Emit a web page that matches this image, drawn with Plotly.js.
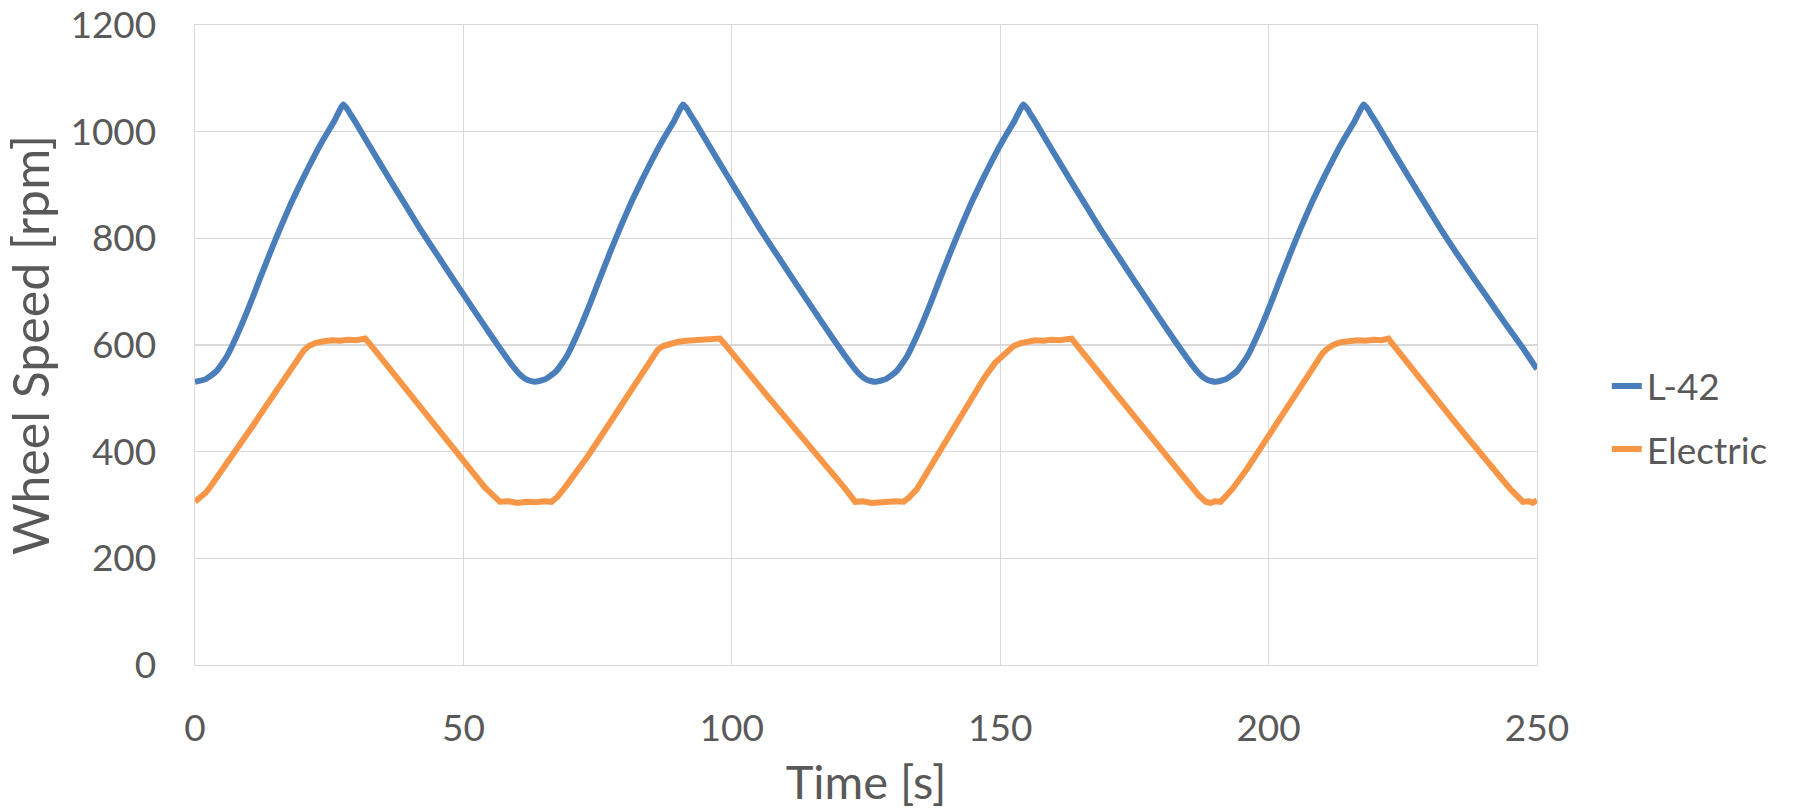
<!DOCTYPE html>
<html>
<head>
<meta charset="utf-8">
<script src="https://cdn.plot.ly/plotly-3.0.1.min.js"></script>
<style>
  html, body { margin: 0; padding: 0; background: #ffffff; }
  #chart { width: 1794px; height: 809px; }
</style>
</head>
<body>
<div id="chart"></div>
<script>
// Time [s] and wheel speed [rpm]
const l42Time = [
  0, 2, 4, 6, 8, 10, 12, 14, 16, 18, 20, 22, 24, 26, 27.1, 27.6, 28.2, 29, 30, 33, 36, 39, 42, 45, 48, 51, 54, 57, 59, 60.5, 61.8,
  63.3, 65.3, 67.3, 69.3, 71.3, 73.3, 75.3, 77.3, 79.3, 81.3, 83.3, 85.3, 87.3, 89.3, 90.4, 90.9, 91.5, 92.3, 93.3, 96.3, 99.3, 102.3, 105.3, 108.3, 111.3, 114.3, 117.3, 120.3, 122.3, 123.8, 125.1,
  126.7, 128.7, 130.7, 132.7, 134.7, 136.7, 138.7, 140.7, 142.7, 144.7, 146.7, 148.7, 150.7, 152.7, 153.8, 154.3, 154.9, 155.7, 156.7, 159.7, 162.7, 165.7, 168.7, 171.7, 174.7, 177.7, 180.7, 183.7, 185.7, 187.2, 188.5,
  190.1, 192.1, 194.1, 196.1, 198.1, 200.1, 202.1, 204.1, 206.1, 208.1, 210.1, 212.1, 214.1, 216.1, 217.2, 217.7, 218.3, 219.1, 220.1, 223.1, 226.1, 229.1, 232.1, 235.1, 238.1, 241.1, 244.1, 247.1, 250
];
const l42Speed = [
  531, 536, 551, 580, 622, 670, 722, 773, 822, 868, 910, 950, 987, 1021, 1043, 1051, 1045, 1032, 1016, 965, 915, 866, 817, 771, 725, 680, 635, 591, 563, 545, 535,
  531, 536, 551, 580, 622, 670, 722, 773, 822, 868, 910, 950, 987, 1021, 1043, 1051, 1045, 1032, 1016, 965, 915, 866, 817, 771, 725, 680, 635, 591, 563, 545, 535,
  531, 536, 551, 580, 622, 670, 722, 773, 822, 868, 910, 950, 987, 1021, 1043, 1051, 1045, 1032, 1016, 965, 915, 866, 817, 771, 725, 680, 635, 591, 563, 545, 535,
  531, 536, 551, 580, 622, 670, 722, 773, 822, 868, 910, 950, 987, 1021, 1043, 1051, 1045, 1032, 1016, 965, 915, 866, 817, 771, 727, 684, 640, 598, 555
];

const elecTime = [
  0, 1, 2, 3, 5, 7, 9, 11, 13, 15, 17, 19, 20.3, 21.2, 22.5, 24, 25.5, 27, 28.5, 30, 31.7, 32.5, 34, 36.3, 39, 42, 45, 48, 51, 54, 56.8,
  58.5, 60, 61.8, 63.5, 65, 66.4, 67.5, 69, 71, 73, 75, 77, 79, 81, 83, 85, 86.2, 87.2, 88.5, 90, 91.5, 93, 94.5, 96, 97.8, 98.6,
  100, 103, 106, 109, 112, 115, 118, 121, 123, 124.5, 126, 127.6, 129, 130.5, 132, 133, 134.5, 136.9, 139, 141, 143, 145, 147, 149, 151.5,
  152.5, 153.7, 155, 156.5, 158, 159.5, 161, 163.3, 164, 166, 169, 172, 175, 178, 181, 184, 187, 188.3, 189.2, 190, 191,
  192, 193.4, 196, 198, 200, 202, 204, 206, 208, 210, 210.8, 212, 213.3, 215, 216.5, 218, 219.5, 221, 222.3, 223, 225, 228.2, 231, 234.4, 237, 240.6, 243, 245, 247.4, 248.5, 249.2, 250
];
const elecSpeed = [
  306, 313, 323, 336, 364, 394, 423, 452, 482, 513, 543, 573, 590, 598, 604, 607, 609, 608, 610, 609, 612, 603, 584, 555, 521, 482, 444, 406, 369, 333, 306,
  307, 304, 306, 305, 307, 306, 315, 334, 360, 389, 419, 449, 480, 511, 542, 574, 591, 598, 603, 606, 608, 609, 608, 610, 612, 603,
  585, 548, 512, 476, 441, 405, 369, 332, 306, 307, 304, 306, 305, 307, 306, 314, 330, 370, 404, 438, 471, 505, 538, 566, 591,
  598, 603, 606, 609, 608, 610, 609, 612, 603, 577, 540, 503, 466, 428, 391, 354, 318, 306, 304, 307, 306,
  316, 332, 368, 398, 428, 459, 490, 522, 553, 584, 592, 600, 605, 607, 609, 608, 610, 609, 612, 603, 577, 536, 501, 459, 427, 384, 355, 330, 306, 307, 304, 309
];

const xTicks = [0, 50, 100, 150, 200, 250];
const yTicks = [0, 200, 400, 600, 800, 1000, 1200];

const textColor = '#595959';
const gridColor = '#d9d9d9';
const fontFamily = 'Lato, "Open Sans", sans-serif';

const traces = [
  {
    x: l42Time, y: l42Speed, name: 'L-42', type: 'scatter', mode: 'lines',
    legendgroup: 'a',
    line: { color: '#4A7EBB', width: 6, shape: 'spline', smoothing: 0.5 }
  },
  {
    x: elecTime, y: elecSpeed, name: 'Electric', type: 'scatter', mode: 'lines',
    legendgroup: 'b',
    line: { color: '#F79646', width: 6 }
  }
];

const layout = {
  width: 1794, height: 809,
  margin: { l: 195, r: 257, t: 25, b: 144 },
  paper_bgcolor: '#ffffff', plot_bgcolor: '#ffffff',
  font: { family: fontFamily, color: textColor, size: 37 },
  showlegend: true,
  legend: {
    x: 1.052, xanchor: 'left', y: 0.386, yanchor: 'middle',
    font: { family: fontFamily, color: textColor, size: 37 },
    traceorder: 'grouped', tracegroupgap: 12,
    bgcolor: 'rgba(0,0,0,0)'
  },
  xaxis: {
    range: [0, 250], tickvals: xTicks, ticktext: xTicks.map(String),
    showgrid: true, gridcolor: gridColor, gridwidth: 1.3,
    showline: true, linecolor: gridColor, linewidth: 1.3, mirror: true,
    zeroline: false, ticks: '', ticklabelstandoff: 30,
    tickfont: { family: fontFamily, color: textColor, size: 37 },
    title: { text: 'Time [s]', font: { family: fontFamily, color: textColor, size: 47 }, standoff: 20 },
    automargin: false, fixedrange: true
  },
  yaxis: {
    range: [0, 1200], tickvals: yTicks, ticktext: yTicks.map(String),
    showgrid: true, gridcolor: gridColor, gridwidth: 1.3,
    showline: true, linecolor: gridColor, linewidth: 1.3, mirror: true,
    zeroline: false, ticks: '', ticklabelstandoff: 30,
    tickfont: { family: fontFamily, color: textColor, size: 37 },
    title: { text: 'Wheel Speed [rpm]', font: { family: fontFamily, color: textColor, size: 50 }, standoff: 28 },
    automargin: false, fixedrange: true
  }
};

Plotly.newPlot('chart', traces, layout, { displayModeBar: false, staticPlot: true });
</script>
</body>
</html>
